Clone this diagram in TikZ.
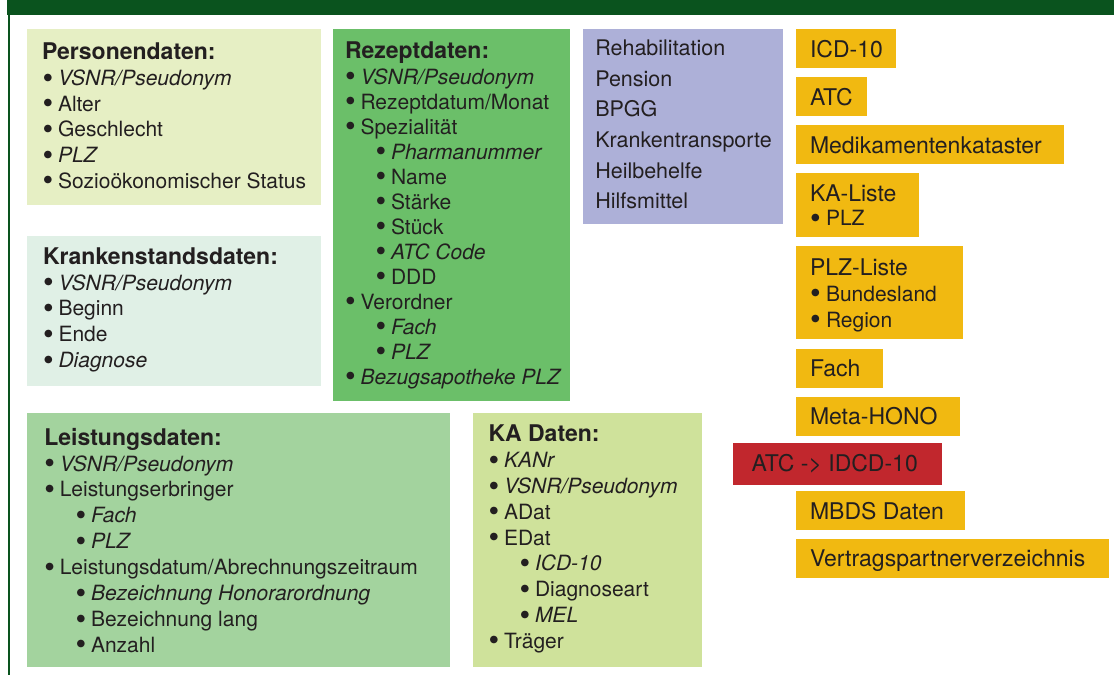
\documentclass[tikz,border=0pt]{standalone}
\usepackage{fontspec}
\setmainfont{TeX Gyre Heros}
\definecolor{dkgreen}{RGB}{10,83,30}
\definecolor{persC}{RGB}{230,239,196}
\definecolor{krankC}{RGB}{224,240,230}
\definecolor{rezC}{RGB}{107,191,105}
\definecolor{purC}{RGB}{173,176,216}
\definecolor{leiC}{RGB}{163,211,158}
\definecolor{kaC}{RGB}{207,226,155}
\definecolor{yelC}{RGB}{241,185,17}
\definecolor{redC}{RGB}{193,39,45}
\definecolor{txtC}{RGB}{35,31,32}
\newcommand\bigbul{\raisebox{-2.6pt}{\scalebox{1.45}{\upshape •}}}
\newcommand\bul[1]{\makebox[15.5pt][l]{\bigbul}#1}
\newcommand\ybul[1]{\makebox[16pt][l]{\bigbul}#1}
\begin{document}
\begin{tikzpicture}[x=1pt,y=-1pt,
  rect/.style={anchor=north west, inner sep=0pt, outer sep=0pt, draw=none},
  t/.style={anchor=base west, inner sep=0pt, outer sep=0pt, text=txtC, text height=15pt, text depth=4.5pt, font=\fontsize{21}{25}\selectfont},
  th/.style={t, font=\fontsize{23}{25}\selectfont\bfseries},
  ti/.style={t, font=\fontsize{21}{25}\selectfont\itshape},
  tp/.style={t, font=\fontsize{21.5}{25}\selectfont},
  ty/.style={t, font=\fontsize{23}{25}\selectfont},
  ybox/.style={rect, fill=yelC}]
\useasboundingbox (0,0) rectangle (1114,675);
% header bar and frame line
\node[rect, fill=dkgreen, minimum width=1107pt, minimum height=15pt] (hdr) at (7,0) {};
\coordinate (ftop) at (9.3,15);
\coordinate (fbot) at (9.3,675);
\draw[dkgreen, line width=2pt] (ftop) -- (fbot);

% Personendaten
\node[rect, fill=persC, minimum width=294pt, minimum height=176pt] (pers) at (27,29) {};
\node[th] (p0) at (42,59.5) {Personendaten:};
\node[ti] (p1) at (42.5,85.5) {\bul{VSNR/Pseudonym}};
\node[t]  (p2) at (42.5,111.2) {\bul{Alter}};
\node[t]  (p3) at (42.5,136.9) {\bul{Geschlecht}};
\node[ti] (p4) at (42.5,162.6) {\bul{PLZ}};
\node[t]  (p5) at (42.5,188.3) {\bul{Sozioökonomischer Status}};

% Krankenstandsdaten
\node[rect, fill=krankC, minimum width=294pt, minimum height=150pt] (kra) at (27,236) {};
\node[th] (k0) at (43,264.3) {Krankenstandsdaten:};
\node[ti] (k1) at (43,290) {\bul{VSNR/Pseudonym}};
\node[t]  (k2) at (43,315.8) {\bul{Beginn}};
\node[t]  (k3) at (43,341.6) {\bul{Ende}};
\node[ti] (k4) at (43,367.4) {\bul{Diagnose}};

% Rezeptdaten
\node[rect, fill=rezC, minimum width=237pt, minimum height=371.5pt] (rez) at (333.3,29) {};
\node[th] (r0) at (345,58.5) {Rezeptdaten:};
\node[ti] (r1) at (345,84.3) {\bul{VSNR/Pseudonym}};
\node[t]  (r2) at (345,109.3) {\bul{Rezeptdatum/Monat}};
\node[t]  (r3) at (345,134.3) {\bul{Spezialität}};
\node[ti] (r4) at (375.5,159.3) {\bul{Pharmanummer}};
\node[t]  (r5) at (375.5,184.3) {\bul{Name}};
\node[t]  (r6) at (375.5,209.3) {\bul{Stärke}};
\node[t]  (r7) at (375.5,234.3) {\bul{Stück}};
\node[ti] (r8) at (375.5,259.3) {\bul{ATC Code}};
\node[t]  (r9) at (375.5,284.3) {\bul{DDD}};
\node[t]  (r10) at (345,309.3) {\bul{Verordner}};
\node[ti] (r11) at (375.5,334.3) {\bul{Fach}};
\node[ti] (r12) at (375.5,359.3) {\bul{PLZ}};
\node[ti] (r13) at (345,384.3) {\bul{Bezugsapotheke PLZ}};

% purple box
\node[rect, fill=purC, minimum width=200pt, minimum height=194.5pt] (pur) at (583,29.3) {};
\node[tp] (u1) at (595.3,55.7) {Rehabilitation};
\node[tp] (u2) at (595.3,86.3) {Pension};
\node[tp] (u3) at (595.3,116.9) {BPGG};
\node[tp] (u4) at (595.3,147.5) {Krankentransporte};
\node[tp] (u5) at (595.3,178.1) {Heilbehelfe};
\node[tp] (u6) at (595.3,208.7) {Hilfsmittel};

% Leistungsdaten
\node[rect, fill=leiC, minimum width=423.3pt, minimum height=253.4pt] (lei) at (26.7,413.3) {};
\node[th] (l0) at (44.3,445.7) {Leistungsdaten:};
\node[ti] (l1) at (44.3,471) {\bul{VSNR/Pseudonym}};
\node[t]  (l2) at (44.3,496.9) {\bul{Leistungserbringer}};
\node[ti] (l3) at (75.5,522.8) {\bul{Fach}};
\node[ti] (l4) at (75.5,548.7) {\bul{PLZ}};
\node[t]  (l5) at (44.3,574.6) {\bul{Leistungsdatum/Abrechnungszeitraum}};
\node[ti] (l6) at (75.5,600.5) {\bul{Bezeichnung Honorarordnung}};
\node[t]  (l7) at (75.5,626.4) {\bul{Bezeichnung lang}};
\node[t]  (l8) at (75.5,652.3) {\bul{Anzahl}};

% KA Daten
\node[rect, fill=kaC, minimum width=228.6pt, minimum height=253.4pt] (ka) at (473.3,413.3) {};
\node[th] (a0) at (488.5,441.7) {KA Daten:};
\node[ti] (a1) at (488.5,467.7) {\bul{KANr}};
\node[ti] (a2) at (488.5,493.5) {\bul{VSNR/Pseudonym}};
\node[t]  (a3) at (488.5,519.3) {\bul{ADat}};
\node[t]  (a4) at (488.5,545.1) {\bul{EDat}};
\node[ti] (a5) at (519.5,570.9) {\bul{ICD-10}};
\node[t]  (a6) at (519.5,596.7) {\bul{Diagnoseart}};
\node[ti] (a7) at (519.5,622.5) {\bul{MEL}};
\node[t]  (a8) at (488.5,648.3) {\bul{Träger}};

% yellow / red boxes
\node[ybox, minimum width=100pt, minimum height=38.4pt] (y1) at (796,29.3) {};
\node[ty] (y1t) at (810,57.3) {ICD-10};
\node[ybox, minimum width=71pt, minimum height=38.7pt] (y2) at (796,77) {};
\node[ty] (y2t) at (810,105.3) {ATC};
\node[ybox, minimum width=268pt, minimum height=38.7pt] (y3) at (796,125) {};
\node[ty] (y3t) at (810,153.3) {Medikamentenkataster};
\node[ybox, minimum width=123pt, minimum height=63.7pt] (y4) at (796,173) {};
\node[ty] (y4t) at (810,201) {KA-Liste};
\node[t] (y4b) at (810,225.7) {\ybul{PLZ}};
\node[ybox, minimum width=166.7pt, minimum height=92.7pt] (y5) at (796,246) {};
\node[ty] (y5t) at (810,275) {PLZ-Liste};
\node[t] (y5b) at (810,301) {\ybul{Bundesland}};
\node[t] (y5c) at (810,327.3) {\ybul{Region}};
\node[ybox, minimum width=86.7pt, minimum height=38.7pt] (y6) at (796,349) {};
\node[ty] (y6t) at (810,376) {Fach};
\node[ybox, minimum width=163.7pt, minimum height=38.7pt] (y7) at (796,397) {};
\node[ty] (y7t) at (810,424) {Meta-HONO};
\node[rect, fill=redC, minimum width=209pt, minimum height=41.4pt] (rd) at (733,443.3) {};
\node[ty] (rdt) at (751.7,471.7) {ATC -> IDCD-10};
\node[ybox, minimum width=168.6pt, minimum height=38.7pt] (y8) at (796,491) {};
\node[ty] (y8t) at (810,519.3) {MBDS Daten};
\node[ybox, minimum width=313pt, minimum height=38.4pt] (y9) at (796,539.3) {};
\node[ty] (y9t) at (810,566.7) {Vertragspartnerverzeichnis};
\end{tikzpicture}
\end{document}
